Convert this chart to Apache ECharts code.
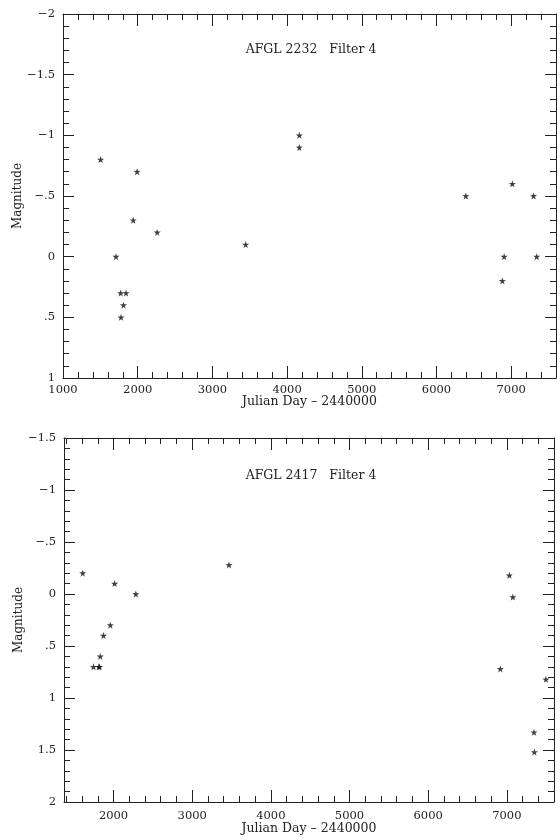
<!DOCTYPE html>
<html>
<head>
<meta charset="utf-8">
<script src="https://cdn.jsdelivr.net/npm/echarts@6/dist/echarts.min.js"></script>
<style>
html,body{margin:0;padding:0;background:#fff;}
#chart{width:560px;height:840px;}
</style>
</head>
<body>
<div id="chart"></div>
<script>
// ---- data ----
var topTitle = 'AFGL 2232   Filter 4';
var bottomTitle = 'AFGL 2417   Filter 4';
var xName = 'Julian Day \u2013 2440000';
var yName = 'Magnitude';

var topJD  = [1503, 1992, 4164, 4164, 6393, 7016, 7299, 1940, 2261, 3445, 1709, 1772, 1844, 1810, 1777, 6906, 6882, 7342];
var topMag = [-0.8, -0.7, -1.0, -0.9, -0.5, -0.6, -0.5, -0.3, -0.2, -0.1, 0.0, 0.3, 0.3, 0.4, 0.5, 0.0, 0.2, 0.0];

var botJD  = [1608, 2014, 2283, 3468, 7032, 7077, 1959, 1872, 1831, 1745, 1812, 1822, 6918, 7497, 7346, 7351];
var botMag = [-0.2, -0.1, 0.0, -0.28, -0.18, 0.03, 0.3, 0.4, 0.6, 0.7, 0.7, 0.7, 0.72, 0.82, 1.33, 1.52];

var topXTicks = [1000, 2000, 3000, 4000, 5000, 6000, 7000];
var botXTicks = [2000, 3000, 4000, 5000, 6000, 7000];
var topYTicks = [-2, -1.5, -1, -0.5, 0, 0.5, 1];
var botYTicks = [-1.5, -1, -0.5, 0, 0.5, 1, 1.5, 2];

// ---- helpers ----
function steps(a, b, s) {
  var out = [];
  var n = Math.round((b - a) / s);
  for (var i = 0; i <= n; i++) out.push(Math.round((a + i * s) * 1000) / 1000);
  return out;
}
function zip(a, b) { return a.map(function (v, i) { return [v, b[i]]; }); }
function magFmt(v) {
  if (Math.abs(v) < 1e-9) return '0';
  var s = String(Math.abs(v));
  if (s.indexOf('0.') === 0) s = s.substring(1);
  return (v < 0 ? '\u2212' : '') + s;
}
function jdFmt(v) { return String(Math.round(v)); }
var INK = '#222';
var FONT = 'DejaVu Serif';

function xAxes(g, min, max, majors, minors, labelMargin, nameGap) {
  var base = { type: 'value', gridIndex: g, min: min, max: max, splitLine: { show: false }, scale: true };
  return [
    Object.assign({}, base, {
      position: 'bottom',
      axisLine: { show: true, onZero: false, lineStyle: { color: INK, width: 1 } },
      axisTick: { show: true, inside: true, length: 12, customValues: majors, lineStyle: { color: INK } },
      axisLabel: { show: true, customValues: majors, margin: labelMargin, color: INK, fontFamily: FONT, fontSize: 11.5, formatter: jdFmt },
      name: xName, nameLocation: 'middle', nameGap: nameGap, nameMoveOverlap: false,
      nameTextStyle: { color: INK, fontFamily: FONT, fontSize: 12.5 }
    }),
    Object.assign({}, base, {
      position: 'bottom',
      axisLine: { show: false, onZero: false },
      axisTick: { show: true, inside: true, length: 6, customValues: minors, lineStyle: { color: INK } },
      axisLabel: { show: false }
    }),
    Object.assign({}, base, {
      position: 'top',
      axisLine: { show: true, onZero: false, lineStyle: { color: INK, width: 1 } },
      axisTick: { show: true, inside: true, length: 12, customValues: majors, lineStyle: { color: INK } },
      axisLabel: { show: false }
    }),
    Object.assign({}, base, {
      position: 'top',
      axisLine: { show: false, onZero: false },
      axisTick: { show: true, inside: true, length: 6, customValues: minors, lineStyle: { color: INK } },
      axisLabel: { show: false }
    })
  ];
}
function yAxes(g, min, max, majors, minors) {
  var base = { type: 'value', gridIndex: g, min: min, max: max, inverse: true, splitLine: { show: false }, scale: true };
  return [
    Object.assign({}, base, {
      position: 'left',
      axisLine: { show: true, onZero: false, lineStyle: { color: INK, width: 1 } },
      axisTick: { show: true, inside: true, length: 11, customValues: majors, lineStyle: { color: INK } },
      axisLabel: { show: true, customValues: majors, margin: 8, color: INK, fontFamily: FONT, fontSize: 11.5, formatter: magFmt },
      name: yName, nameLocation: 'middle', nameGap: 39, nameRotate: 90, nameMoveOverlap: false,
      nameTextStyle: { color: INK, fontFamily: FONT, fontSize: 12 }
    }),
    Object.assign({}, base, {
      position: 'left',
      axisLine: { show: false, onZero: false },
      axisTick: { show: true, inside: true, length: 6, customValues: minors, lineStyle: { color: INK } },
      axisLabel: { show: false }
    }),
    Object.assign({}, base, {
      position: 'right',
      axisLine: { show: true, onZero: false, lineStyle: { color: INK, width: 1 } },
      axisTick: { show: true, inside: true, length: 11, customValues: majors, lineStyle: { color: INK } },
      axisLabel: { show: false }
    }),
    Object.assign({}, base, {
      position: 'right',
      axisLine: { show: false, onZero: false },
      axisTick: { show: true, inside: true, length: 6, customValues: minors, lineStyle: { color: INK } },
      axisLabel: { show: false }
    })
  ];
}

var STAR = 'path://M0,-10 L2.35,-3.24 L9.51,-3.09 L3.8,1.24 L5.88,8.09 L0,4 L-5.88,8.09 L-3.8,1.24 L-9.51,-3.09 L-2.35,-3.24 Z';

var option = {
  animation: false,
  backgroundColor: '#fff',
  title: [
    { text: topTitle, left: 306, top: 38, textAlign: 'center',
      textStyle: { color: INK, fontFamily: FONT, fontSize: 12.5, fontWeight: 'normal' } },
    { text: bottomTitle, left: 306, top: 464, textAlign: 'center',
      textStyle: { color: INK, fontFamily: FONT, fontSize: 12.5, fontWeight: 'normal' } }
  ],
  grid: [
    { left: 63, top: 14, width: 493, height: 364, outerBoundsMode: 'none', containLabel: false },
    { left: 64, top: 438, width: 490, height: 364, outerBoundsMode: 'none', containLabel: false }
  ],
  xAxis: [].concat(
    xAxes(0, 1000, 7600, topXTicks, steps(1200, 7400, 200), 6, 17),
    xAxes(1, 1370, 7600, botXTicks, steps(1400, 7400, 200), 8, 20)
  ),
  yAxis: [].concat(
    yAxes(0, -2, 1, topYTicks, steps(-1.9, 0.9, 0.1)),
    yAxes(1, -1.5, 2, botYTicks, steps(-1.4, 1.9, 0.1))
  ),
  series: [
    { type: 'scatter', xAxisIndex: 0, yAxisIndex: 0, data: zip(topJD, topMag),
      symbol: STAR, symbolSize: 7, itemStyle: { color: '#111' }, clip: false },
    { type: 'scatter', xAxisIndex: 4, yAxisIndex: 4, data: zip(botJD, botMag),
      symbol: STAR, symbolSize: 7, itemStyle: { color: '#111' }, clip: false }
  ]
};

var chart = echarts.init(document.getElementById('chart'), null, { renderer: 'canvas' });
chart.setOption(option);
</script>
</body>
</html>
